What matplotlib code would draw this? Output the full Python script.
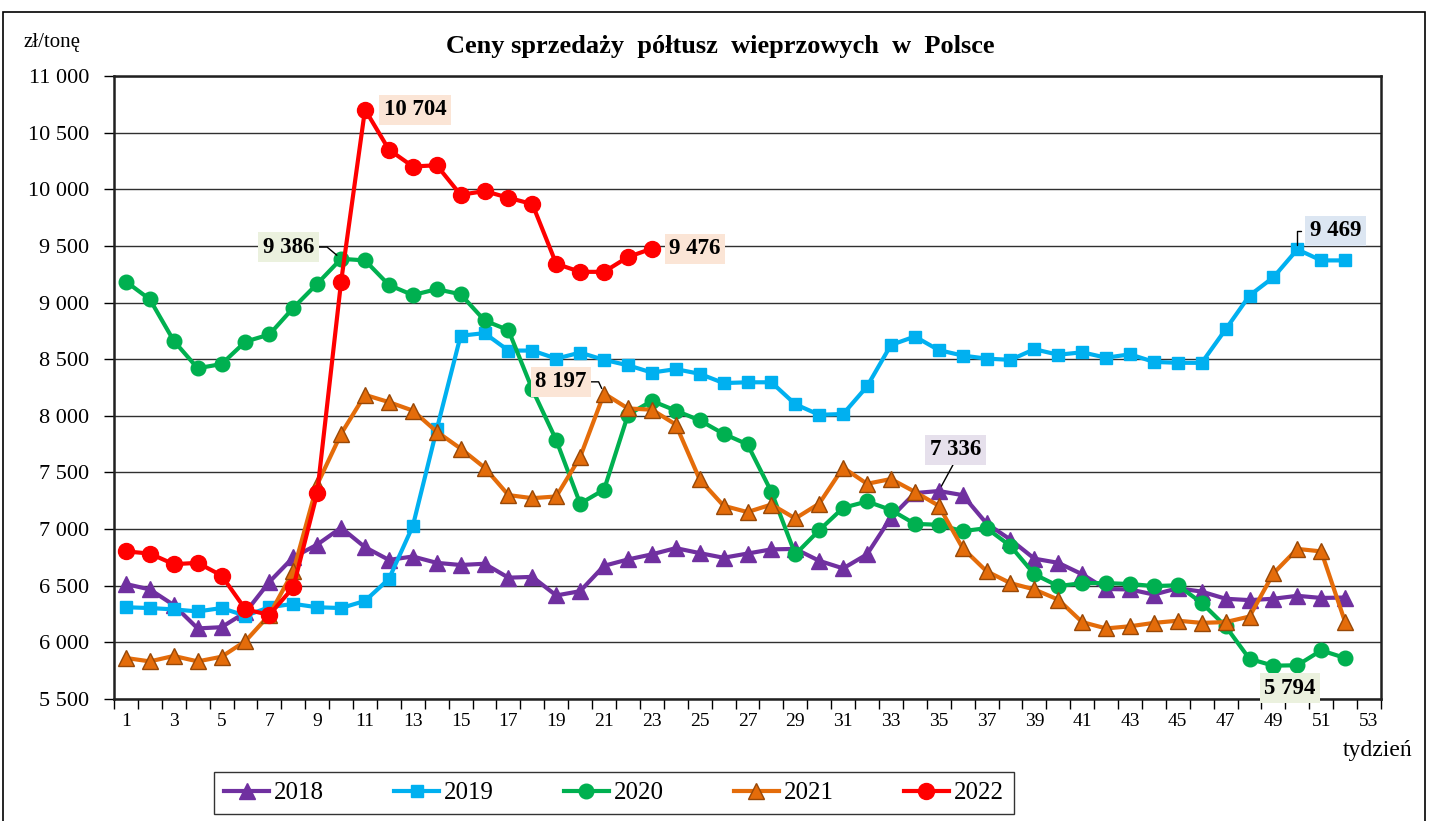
import matplotlib
matplotlib.use('Agg')
from matplotlib import pyplot as plt
from matplotlib.patches import Rectangle
from matplotlib.ticker import FuncFormatter, MultipleLocator
import numpy as np

plt.rcParams['font.family'] = ['Liberation Serif', 'DejaVu Serif']

weeks = np.arange(1, 53)

y2018 = [6515, 6467, 6329, 6123, 6134, 6265, 6534, 6751, 6863, 7012,
         6840, 6728, 6758, 6702, 6683, 6694, 6571, 6578, 6414, 6452,
         6676, 6732, 6777, 6832, 6788, 6747, 6784, 6821, 6825, 6720,
         6653, 6777, 7102, 7318, 7336, 7300, 7050, 6907, 6739, 6702,
         6601, 6471, 6467, 6422, 6478, 6448, 6385, 6373, 6385, 6411,
         6392, 6396]
y2019 = [6310, 6303, 6291, 6273, 6303, 6235, 6310, 6340, 6310, 6303,
         6366, 6560, 7027, 7880, 8707, 8730, 8576, 8576, 8505, 8558,
         8494, 8446, 8382, 8412, 8371, 8289, 8296, 8296, 8102, 8009,
         8016, 8259, 8625, 8700, 8580, 8532, 8505, 8494, 8588, 8539,
         8561, 8513, 8543, 8476, 8468, 8468, 8763, 9062, 9223, 9469,
         9372, 9372]
y2020 = [9185, 9028, 8662, 8420, 8457, 8655, 8718, 8953, 9166, 9386,
         9372, 9155, 9066, 9118, 9073, 8842, 8756, 8233, 7785, 7225,
         7348, 8009, 8132, 8046, 7960, 7841, 7748, 7329, 6777, 6990,
         7188, 7244, 7169, 7046, 7038, 6982, 7008, 6851, 6601, 6497,
         6523, 6523, 6515, 6497, 6504, 6348, 6142, 5854, 5794, 5798,
         5929, 5862]
y2021 = [5862, 5832, 5880, 5832, 5873, 6011, 6243, 6628, 7393, 7841,
         8185, 8121, 8046, 7860, 7711, 7543, 7300, 7273, 7288, 7636,
         8197, 8065, 8054, 7923, 7438, 7206, 7150, 7217, 7094, 7225,
         7543, 7400, 7442, 7329, 7206, 6832, 6628, 6523, 6467, 6377,
         6179, 6123, 6142, 6172, 6191, 6172, 6179, 6228, 6609, 6825,
         6803, 6179]
y2022 = [6803, 6784, 6690, 6702, 6590, 6291, 6243, 6486, 7318, 9185,
         10704, 10350, 10201, 10212, 9951, 9984, 9925, 9869, 9342, 9271,
         9271, 9402, 9476]

fig = plt.figure(figsize=(14.3, 8.21), dpi=100)
ax = fig.add_axes([114/1430, 1 - 699/821, 1267/1430, 623/821])

lw = 3
ax.plot(weeks, y2018, color='#7030a0', lw=lw, marker='^', ms=11, label='2018')
ax.plot(weeks, y2019, color='#00b0f0', lw=lw, marker='s', ms=9, label='2019')
ax.plot(weeks, y2020, color='#00b050', lw=lw, marker='o', ms=10.5, label='2020')
ax.plot(weeks, y2021, color='#e46c0a', lw=lw, marker='^', ms=11,
        mfc='#e46c0a', mec='#984807', mew=1, label='2021')
ax.plot(weeks[:len(y2022)], y2022, color='#ff0000', lw=lw, marker='o', ms=11.5,
        label='2022')

ax.set_xlim(0.5, 53.5)
ax.set_ylim(5500, 11000)
ax.yaxis.set_major_locator(MultipleLocator(500))
ax.yaxis.set_major_formatter(FuncFormatter(lambda v, p: f'{int(v):,}'.replace(',', ' ')))
ax.set_xticks(np.arange(1, 54, 2))
ax.set_xticks(np.arange(0.5, 54, 1), minor=True)
ax.tick_params(axis='x', which='major', length=0, labelsize=14, pad=10)
ax.tick_params(axis='x', which='minor', length=7, width=1, direction='out')
ax.tick_params(axis='y', length=7, width=1, labelsize=16, pad=11)
ax.grid(axis='y', color='#303030', lw=1)
ax.set_axisbelow(True)
for s in ax.spines.values():
    s.set_linewidth(1.8)
    s.set_color('#202020')

bold = dict(fontsize=16.5, fontweight='bold', ha='center', va='center')


def box(c):
    return dict(boxstyle='square,pad=0.2', fc=c, ec='none')


ax.annotate('10 704', xy=(11, y2022[10]), xytext=(13.1, 10700),
            bbox=box('#fbe5d6'), **bold)
ax.annotate('9 476', xy=(23, y2022[22]), xytext=(24.8, 9476),
            bbox=box('#fbe5d6'), **bold)
ax.annotate('9 386', xy=(10, y2020[9]), xytext=(7.8, 9490),
            bbox=box('#ebf1de'), **bold,
            arrowprops=dict(arrowstyle='-', color='black', lw=1, relpos=(1, 0.5),
                            shrinkA=0, shrinkB=4,
                            connectionstyle='angle,angleA=0,angleB=-40,rad=0'))
ax.annotate('8 197', xy=(21, y2021[20]), xytext=(19.2, 8300),
            bbox=box('#fbe5d6'), **bold,
            arrowprops=dict(arrowstyle='-', color='black', lw=1, relpos=(1, 0.5),
                            shrinkA=0, shrinkB=4,
                            connectionstyle='angle,angleA=0,angleB=-65,rad=0'))
ax.annotate('7 336', xy=(35, y2018[34]), xytext=(35.7, 7700),
            bbox=box('#e6e0ec'), **bold,
            arrowprops=dict(arrowstyle='-', color='black', lw=1, relpos=(0.5, 0),
                            shrinkA=0, shrinkB=4))
ax.annotate('9 469', xy=(50, y2019[49]), xytext=(51.6, 9632),
            bbox=box('#dce6f2'), **bold,
            arrowprops=dict(arrowstyle='-', color='black', lw=1, relpos=(0, 0.5),
                            shrinkA=3, shrinkB=3,
                            connectionstyle='angle,angleA=0,angleB=90,rad=0'))
ax.annotate('5 794', xy=(49, y2020[48]), xytext=(49.7, 5597),
            bbox=box('#ebf1de'), annotation_clip=False, **bold)

fig.text(0.504, 1 - 47/821, 'Ceny sprzedaży  półtusz  wieprzowych  w  Polsce',
         fontsize=19, fontweight='bold', ha='center', va='center')
fig.text(24/1430, 1 - 42/821, 'zł/tonę', fontsize=15, ha='left', va='center')
fig.text(1378/1430, 1 - 750/821, 'tydzień', fontsize=17, ha='center', va='center')

leg = fig.legend(loc='center', bbox_to_anchor=(614/1430, 1 - 793/821), ncol=5,
                 fontsize=18, frameon=True, fancybox=False, handlelength=1.8,
                 handletextpad=0.2, columnspacing=2.8, borderpad=0.4)
leg.get_frame().set_edgecolor('black')
leg.get_frame().set_linewidth(1)

fig.patches.append(Rectangle((3/1430, -0.05), 1422/1430, 1.05 - 12/821,
                             transform=fig.transFigure, fill=False,
                             ec='black', lw=1.2))

fig.savefig('out.png', dpi=100)
